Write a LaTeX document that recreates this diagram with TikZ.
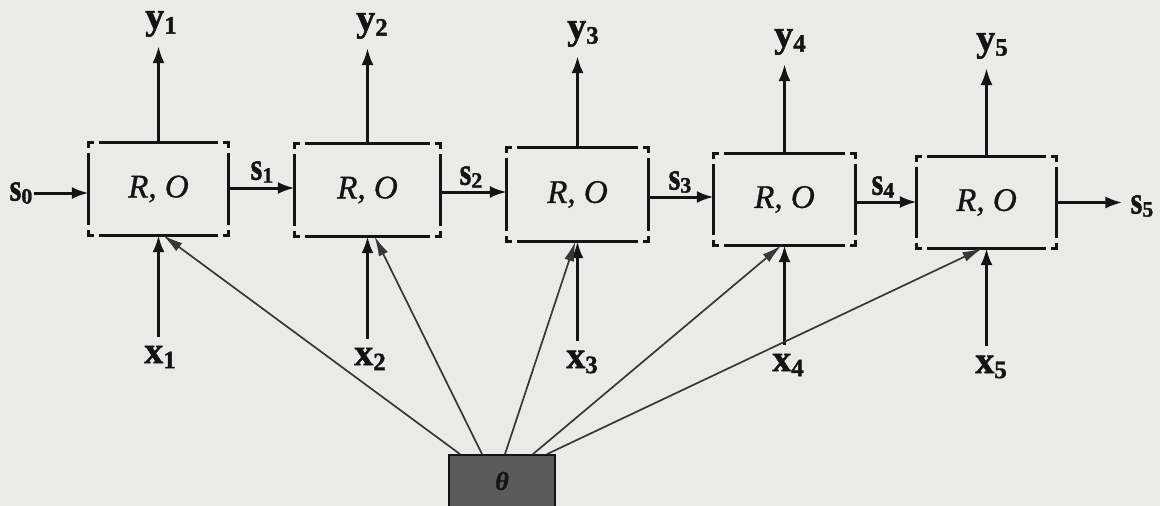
\documentclass[tikz,border=0pt]{standalone}
\usepackage{fontspec}
\usepackage{graphicx}
\setmainfont{Liberation Serif}[
  BoldFeatures={FakeBold=1.3},
  ItalicFeatures={FakeBold=0.9},
  BoldItalicFeatures={FakeBold=1.3}]
\usetikzlibrary{arrows.meta,calc}
\definecolor{paper}{HTML}{EAEAE8}
\definecolor{ink}{HTML}{141414}
\definecolor{thetafill}{HTML}{5B5B5B}
\newcommand\biglab[2]{\fontsize{38}{38}\selectfont\bfseries #1\raisebox{-5pt}{\fontsize{25}{25}\selectfont #2}}
\newcommand\slab[1]{\fontsize{30}{30}\selectfont\bfseries\scalebox{1}[1.3]{s}\raisebox{-3pt}{\fontsize{22}{22}\selectfont #1}}
\newcommand\cornerframe[1]{%
  \draw[edgeline] ([xshift=10pt]#1.north west) -- ([xshift=-10pt]#1.north east);
  \draw[edgeline] ([xshift=10pt]#1.south west) -- ([xshift=-10pt]#1.south east);
  \draw[edgeline] ([yshift=-10pt]#1.north west) -- ([yshift=10pt]#1.south west);
  \draw[edgeline] ([yshift=-10pt]#1.north east) -- ([yshift=10pt]#1.south east);
  \draw[cornerline] ([xshift=5pt]#1.north west) -- (#1.north west) -- ([yshift=-5pt]#1.north west);
  \draw[cornerline] ([xshift=-5pt]#1.north east) -- (#1.north east) -- ([yshift=-5pt]#1.north east);
  \draw[cornerline] ([xshift=5pt]#1.south west) -- (#1.south west) -- ([yshift=5pt]#1.south west);
  \draw[cornerline] ([xshift=-5pt]#1.south east) -- (#1.south east) -- ([yshift=5pt]#1.south east);
}
\begin{document}
\begin{tikzpicture}[x=1pt,y=-1pt,
  rbox/.style={draw=none, inner sep=0pt, text=ink, font=\fontsize{33}{33}\selectfont\itshape},
  lab/.style={inner sep=0pt, text=ink},
  edgeline/.style={draw=ink, line width=3.2pt},
  cornerline/.style={draw=ink, line width=2.8pt},
  arr/.style={draw=ink, line width=3pt, -{Latex[length=17pt,width=12pt]}},
  diag/.style={draw=ink!85, line width=1.7pt, -{Latex[length=20pt,width=10pt]}},
  thetabox/.style={draw=ink, line width=1.8pt, fill=thetafill, inner sep=0pt,
    text=ink, font=\fontsize{26}{26}\selectfont\bfseries\itshape}
]
\useasboundingbox[fill=paper] (0,0) rectangle (1160,506);

% boxes
\node[rbox, minimum width=139pt, minimum height=92pt] (b1) at (158.5,189) {R, O};
\node[rbox, minimum width=145pt, minimum height=92pt] (b2) at (367.5,190) {R, O};
\node[rbox, minimum width=141pt, minimum height=93pt] (b3) at (577.5,194.5) {R, O};
\node[rbox, minimum width=141pt, minimum height=91pt] (b4) at (784.5,199.5) {R, O};
\node[rbox, minimum width=139pt, minimum height=91pt] (b5) at (986.5,202.5) {R, O};
\cornerframe{b1}
\cornerframe{b2}
\cornerframe{b3}
\cornerframe{b4}
\cornerframe{b5}

% theta
\node[thetabox, minimum width=106pt, minimum height=52pt] (th) at (502,481) {θ};

% y labels
\node[lab] (y1) at (161,24) {\biglab{y}{1}};
\node[lab] (y2) at (372,26) {\biglab{y}{2}};
\node[lab] (y3) at (583,34) {\biglab{y}{3}};
\node[lab] (y4) at (790,42) {\biglab{y}{4}};
\node[lab] (y5) at (992,46) {\biglab{y}{5}};

% x labels
\node[lab] (x1) at (160,357) {\biglab{x}{1}};
\node[lab] (x2) at (370,359) {\biglab{x}{2}};
\node[lab] (x3) at (582,362) {\biglab{x}{3}};
\node[lab] (x4) at (788,365) {\biglab{x}{4}};
\node[lab] (x5) at (991,367) {\biglab{x}{5}};

% s labels
\node[lab] (s0) at (21,193) {\slab{0}};
\node[lab] (s1) at (262,172) {\slab{1}};
\node[lab] (s2) at (471,177) {\slab{2}};
\node[lab] (s3) at (680,182) {\slab{3}};
\node[lab] (s4) at (883,187) {\slab{4}};
\node[lab] (s5) at (1142,206) {\slab{5}};

% outputs
\foreach \b/\y in {b1/y1,b2/y2,b3/y3,b4/y4,b5/y5}
  \draw[arr, shorten >=9pt] (\b.north) -- (\b.north |- \y.south);

% inputs
\foreach \b/\x in {b1/x1,b2/x2,b3/x3,b4/x4,b5/x5}
  \draw[arr, shorten <=9pt] (\b.south |- \x.north) -- (\b.south);

% state chain
\draw[arr, shorten <=1pt] (s0.east) -- (s0.east -| b1.west);
\draw[arr] ([yshift=1pt]b1.east) -- ([yshift=1pt]b1.east -| b2.west);
\draw[arr] ([yshift=-2pt]b2.east) -- ([yshift=-2pt]b2.east -| b3.west);
\draw[arr] ([yshift=-2.5pt]b3.east) -- ([yshift=-2.5pt]b3.east -| b4.west);
\draw[arr] ([yshift=-2.5pt]b4.east) -- ([yshift=-2.5pt]b4.east -| b5.west);
\draw[arr, shorten >=8pt] (b5.east) -- (b5.east -| s5.west);

% parameter links
\draw[diag] ([xshift=-42pt]th.north) -- ([xshift=4.5pt]b1.south);
\draw[diag] ([xshift=-20pt]th.north) -- ([xshift=7pt]b2.south);
\draw[diag] ([xshift=3pt]th.north) -- ([xshift=-2pt]b3.south);
\draw[diag] ([xshift=31pt]th.north) -- ([xshift=-3pt]b4.south);
\draw[diag] ([xshift=45pt]th.north) -- ([xshift=-4pt]b5.south);
\end{tikzpicture}
\end{document}
